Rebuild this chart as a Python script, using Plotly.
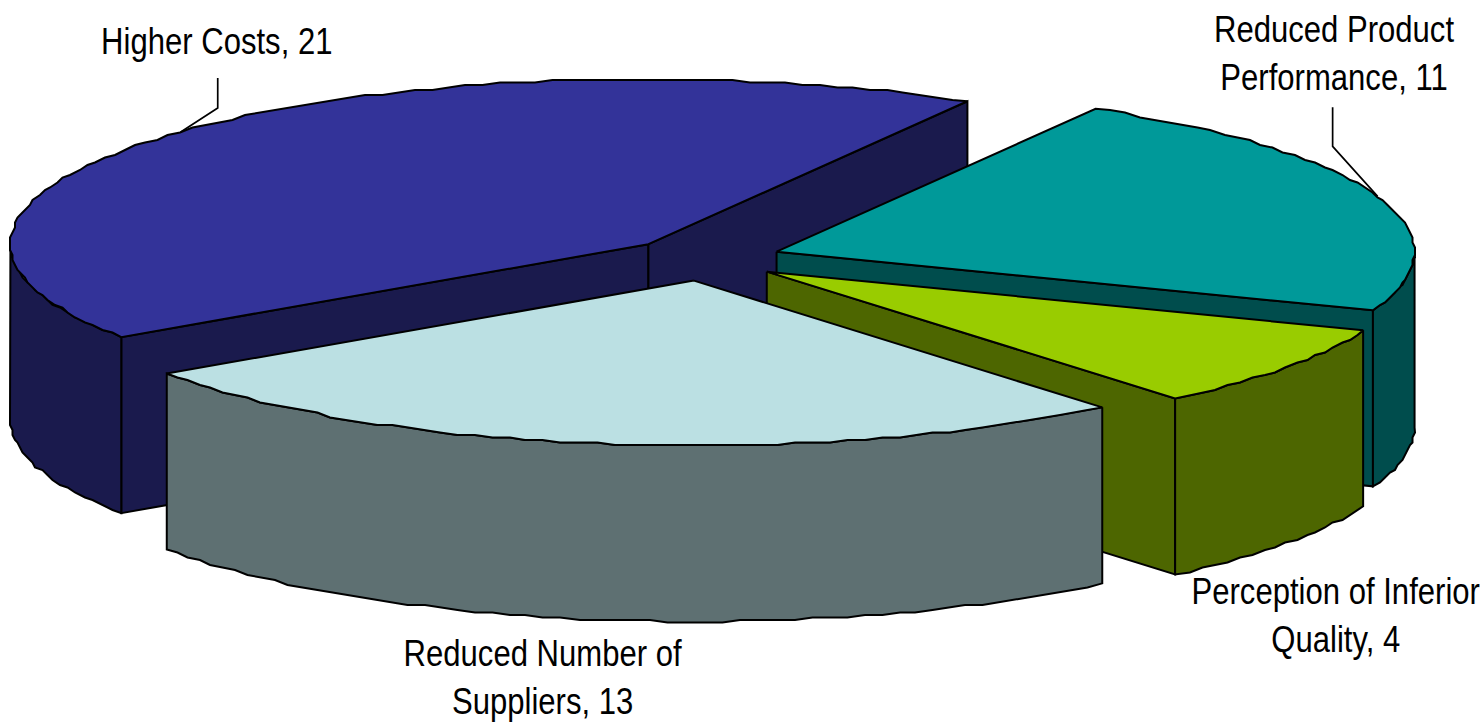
import math
import plotly.graph_objects as go

# Pie data, clockwise from the 60 degree start angle
categories = [
    "Reduced Product<br>Performance",
    "Perception of Inferior<br>Quality",
    "Reduced Number of<br>Suppliers",
    "Higher Costs",
]
values = [11, 4, 13, 21]
top_colors = ["#009999", "#99CC00", "#BBE0E3", "#333399"]
wall_colors = ["#004D4D", "#4D6600", "#5E7072", "#1A1A4D"]
draw_order = [3, 0, 1, 2]

# Projection of the tilted disc, in page pixels
CX, CY = 704.5, 259.0
RX, RY = 638.0, 165.0
DEPTH = 176.0
EXPLODE_X, EXPLODE_Y = 76.5, 21.8
START = 60.0
GRID_X, GRID_Y = 2.5, 2.5  # coarse vertex grid gives the rim its stepped outline
LINE = dict(color="black", width=2)

label_pos = {0: (1334, 53), 1: (1335, 615), 2: (543, 677), 3: (217, 41)}
leaders = {0: ((-45, -50), (-45, -89)), 3: ((37, -24), (37, -54))}

# Labels are set in a condensed cut: squeeze each line horizontally about its centre
CONDENSE_JS = """
document.querySelectorAll('text.annotation-text').forEach(function (t) {
  var box = t.getBBox();
  var c = box.x + box.width / 2;
  t.setAttribute('transform',
    'translate(' + c + ',0) scale(0.84,1) translate(' + (-c) + ',0)');
});
"""


def snap(x, y):
    return round(x / GRID_X) * GRID_X, round(y / GRID_Y) * GRID_Y


def arc(apex, a, b, drop=0.0, step=1.6):
    """Points on the rim from angle a to angle b (degrees)."""
    n = max(2, int(abs(a - b) / step))
    pts = []
    for i in range(n + 1):
        t = math.radians(a + (b - a) * i / n)
        x = apex[0] + RX * math.cos(t)
        y = apex[1] - RY * math.sin(t) + drop
        pts.append(snap(x, y) if 0 < i < n else (x, y))
    return pts


def rim(apex, t):
    r = math.radians(t)
    return apex[0] + RX * math.cos(r), apex[1] - RY * math.sin(r)


def polygon(points, color):
    xs = [p[0] for p in points] + [points[0][0]]
    ys = [p[1] for p in points] + [points[0][1]]
    return go.Scatter(
        x=xs, y=ys, mode="lines", fill="toself", fillcolor=color,
        line=LINE, hoverinfo="skip", showlegend=False,
    )


def radial_wall(apex, t, color):
    end = rim(apex, t)
    return polygon(
        [apex, end, (end[0], end[1] + DEPTH), (apex[0], apex[1] + DEPTH)], color
    )


total = sum(values)
sweeps = [v / total * 360.0 for v in values]
spans = []
angle = START
for s in sweeps:
    spans.append((angle, angle - s))
    angle -= s

fig = go.Figure()
annotations = []

for idx in draw_order:
    a, b = spans[idx]
    mid = (a + b) / 2
    m = math.radians(mid)
    apex = (CX + EXPLODE_X * math.cos(m), CY - EXPLODE_Y * math.sin(m))

    # Side faces: cut faces turned to the viewer, then the visible outer rim
    if math.cos(math.radians(a)) < 0:
        fig.add_trace(radial_wall(apex, a, wall_colors[idx]))
    if math.cos(math.radians(b)) > 0:
        fig.add_trace(radial_wall(apex, b, wall_colors[idx]))

    # Portion of the rim on the near half of the disc
    for turn in (-360, 0, 360):
        lo = max(b, -180 + turn)
        hi = min(a, 0 + turn)
        if hi > lo:
            upper = arc(apex, hi, lo)
            lower = arc(apex, lo, hi, drop=DEPTH)
            fig.add_trace(polygon(upper + lower, wall_colors[idx]))

    # Top face
    fig.add_trace(polygon([apex] + arc(apex, a, b), top_colors[idx]))

    # Leader line from the rim to the label
    if idx in leaders:
        ax, ay = rim(apex, mid)
        (ex, ey), (fx, fy) = leaders[idx]
        fig.add_trace(go.Scatter(
            x=[ax, ax + ex, ax + fx], y=[ay, ay + ey, ay + fy],
            mode="lines", line=dict(color="black", width=1.7),
            hoverinfo="skip", showlegend=False,
        ))

    lx, ly = label_pos[idx]
    annotations.append(dict(
        x=lx, y=ly, xref="x", yref="y", showarrow=False, align="center",
        text=f"{categories[idx]}, {values[idx]}",
        font=dict(family="Liberation Sans", size=37, color="black"),
    ))

fig.update_layout(
    width=1481, height=722,
    margin=dict(l=0, r=0, t=0, b=0),
    paper_bgcolor="white", plot_bgcolor="white",
    showlegend=False,
    annotations=annotations,
    xaxis=dict(range=[0, 1481], visible=False, fixedrange=True),
    yaxis=dict(range=[722, 0], visible=False, fixedrange=True),
)
fig.write_html("out.html", config=dict(displayModeBar=False), post_script=CONDENSE_JS)
